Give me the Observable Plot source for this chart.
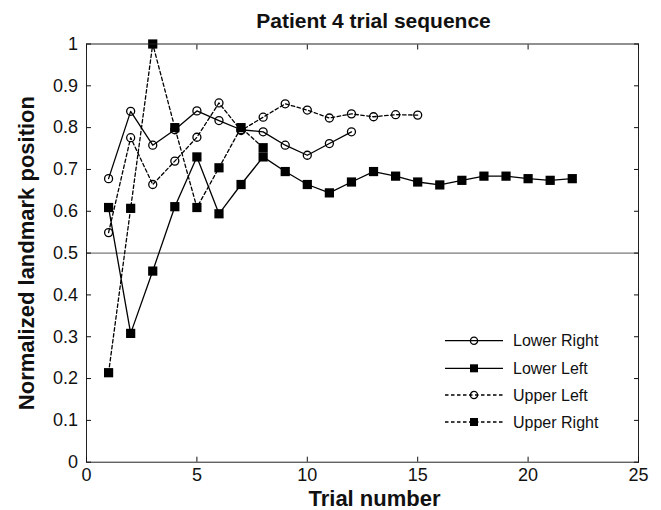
<!DOCTYPE html>
<html><head><meta charset="utf-8">
<script src="https://cdn.jsdelivr.net/npm/d3@7"></script>
<script src="https://cdn.jsdelivr.net/npm/@observablehq/plot@0.6"></script>
<style>
html,body{margin:0;padding:0;background:#fff;}
#wrap{position:relative;width:661px;height:510px;font-family:"Liberation Sans",Arial,sans-serif;}
#wrap svg.legend{position:absolute;left:0;top:0;}
</style></head><body><div id="wrap"></div>
<script>
const titleText = "Patient 4 trial sequence";
const xLabel = "Trial number";
const yLabel = "Normalized landmark position";

const trials = [1,2,3,4,5,6,7,8,9,10,11,12,13,14,15,16,17,18,19,20,21,22];
const seriesNames = ["Lower Right", "Lower Left", "Upper Left", "Upper Right"];
const lowerRight = [0.678, 0.839, 0.758, 0.795, 0.840, 0.817, 0.795, 0.790, 0.758, 0.734, 0.762, 0.790];
const lowerLeft = [0.609, 0.308, 0.457, 0.611, 0.730, 0.594, 0.664, 0.730, 0.695, 0.664, 0.644, 0.670, 0.695, 0.684, 0.670, 0.663, 0.674, 0.684, 0.684, 0.678, 0.674, 0.678];
const upperLeft = [0.549, 0.776, 0.664, 0.720, 0.777, 0.859, 0.793, 0.825, 0.857, 0.842, 0.823, 0.833, 0.826, 0.831, 0.830];
const upperRight = [0.214, 0.607, 1.0, 0.800, 0.609, 0.704, 0.800, 0.752];

const xTicks = [0, 5, 10, 15, 20, 25];
const yTicks = [0, 0.1, 0.2, 0.3, 0.4, 0.5, 0.6, 0.7, 0.8, 0.9, 1];
const refLine = [0.5];

const seriesValues = [lowerRight, lowerLeft, upperLeft, upperRight];
const styles = [
  {dash: null, symbol: "circle"},
  {dash: null, symbol: "square"},
  {dash: "3.5,2.5", symbol: "circle"},
  {dash: "3.5,2.5", symbol: "square"}
];

const rows = seriesValues.map((vals, i) => vals.map((v, j) => ({series: seriesNames[i], trial: trials[j], value: v})));

const seriesMarks = rows.flatMap((data, i) => {
  const s = styles[i];
  const line = Plot.line(data, {x: "trial", y: "value", stroke: "#000", strokeWidth: 1.3, strokeDasharray: s.dash});
  const dot = s.symbol === "circle"
    ? Plot.dot(data, {x: "trial", y: "value", symbol: "circle", r: 4, fill: "none", stroke: "#000", strokeWidth: 1.3})
    : Plot.dot(data, {x: "trial", y: "value", symbol: "square", r: 5.2, fill: "#000", stroke: "none"});
  return [line, dot];
});

const fmtY = d => String(+d.toFixed(1));

const chart = Plot.plot({
  width: 661, height: 510,
  marginLeft: 86, marginRight: 23, marginTop: 43.5, marginBottom: 48.3,
  style: {fontFamily: "'Liberation Sans', Arial, sans-serif", background: "#fff", color: "#111"},
  x: {domain: [0, 25]},
  y: {domain: [0, 1]},
  marks: [
    Plot.ruleY(refLine, {stroke: "#7a7a7a", strokeWidth: 1.3}),
    ...seriesMarks,
    Plot.frame({stroke: "#222", strokeWidth: 1}),
    Plot.axisX({ticks: xTicks, anchor: "bottom", tickSize: -5, tickPadding: 11, fontSize: 18, label: null, tickFormat: d => String(d)}),
    Plot.axisX({ticks: xTicks, anchor: "top", tickSize: -5, label: null, tickFormat: () => ""}),
    Plot.axisY({ticks: yTicks, anchor: "left", tickSize: -5, tickPadding: 13.5, fontSize: 18, label: null, tickFormat: fmtY}),
    Plot.axisY({ticks: yTicks, anchor: "right", tickSize: -5, label: null, tickFormat: () => ""}),
    Plot.text([titleText], {text: d => d, frameAnchor: "top", textAnchor: "middle", dx: 11, dy: -16, lineAnchor: "bottom", fontSize: 21, fontWeight: "bold", fill: "#111"}),
    Plot.text([xLabel], {text: d => d, frameAnchor: "bottom", textAnchor: "middle", dx: 12, dy: 44, lineAnchor: "bottom", fontSize: 22, fontWeight: "bold", fill: "#111"}),
    Plot.text([yLabel], {text: d => d, frameAnchor: "left", textAnchor: "middle", rotate: -90, dx: -53, dy: 0, lineAnchor: "bottom", fontSize: 22, fontWeight: "bold", fill: "#111"})
  ]
});

const wrap = document.getElementById("wrap");
wrap.appendChild(chart);

// Legend overlay
const lg = d3.select(wrap).append("svg").attr("class", "legend")
  .attr("width", 661).attr("height", 510);
const rowY = [340.7, 368.3, 395, 422];
seriesNames.forEach((name, i) => {
  const s = styles[i];
  const g = lg.append("g").attr("transform", `translate(0,${rowY[i]})`);
  g.append("line").attr("x1", 445).attr("x2", 503).attr("y1", 0).attr("y2", 0)
    .attr("stroke", "#000").attr("stroke-width", 1.3).attr("stroke-dasharray", s.dash);
  if (s.symbol === "circle") {
    g.append("circle").attr("cx", 474).attr("cy", 0).attr("r", 3.6)
      .attr("fill", "none").attr("stroke", "#000").attr("stroke-width", 1.3);
  } else {
    g.append("rect").attr("x", 470).attr("y", -4).attr("width", 8).attr("height", 8).attr("fill", "#000");
  }
  g.append("text").attr("x", 513).attr("y", 0).attr("dy", "0.35em")
    .attr("font-size", 16).attr("fill", "#111")
    .attr("font-family", "'Liberation Sans', Arial, sans-serif").text(name);
});
</script></body></html>
